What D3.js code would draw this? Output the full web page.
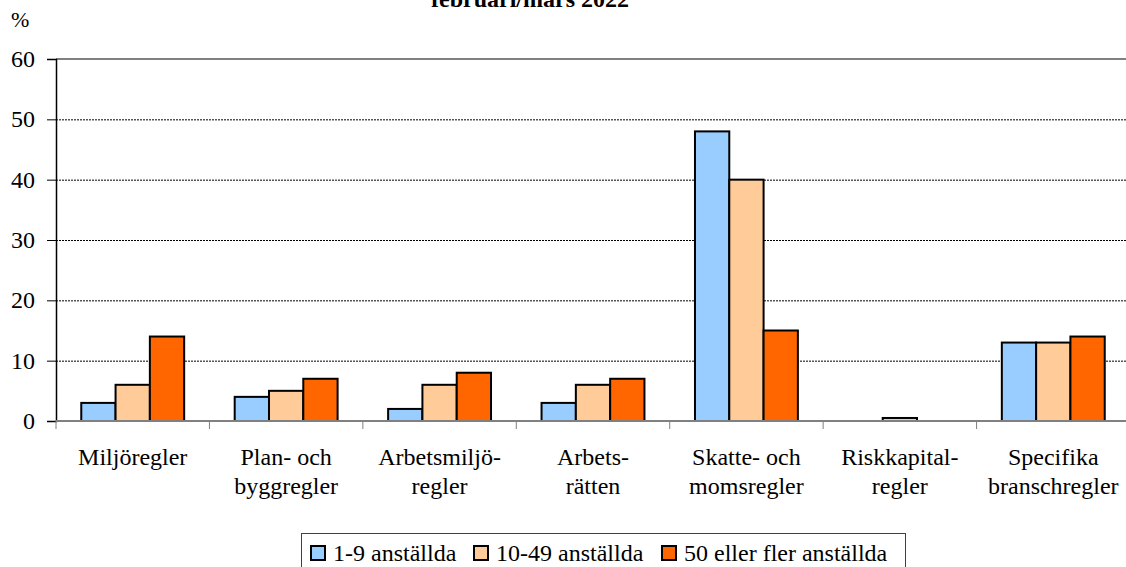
<!DOCTYPE html>
<html>
<head>
<meta charset="utf-8">
<script src="https://cdn.jsdelivr.net/npm/d3@7"></script>
</head>
<body style="margin:0;background:white;font-family:'Times New Roman',serif">
<script>
// data
var categories = [["Miljöregler"], ["Plan- och", "byggregler"], ["Arbetsmiljö-", "regler"],
  ["Arbets-", "rätten"], ["Skatte- och", "momsregler"], ["Riskkapital-", "regler"],
  ["Specifika", "branschregler"]];
var seriesNames = ["1-9 anställda", "10-49 anställda", "50 eller fler anställda"];
var small = [3, 4, 2, 3, 48, 0, 13];
var medium = [6, 5, 6, 6, 40, 0.5, 13];
var large = [14, 7, 8, 7, 15, 0, 14];
var yTicks = [0, 10, 20, 30, 40, 50, 60];
var colors = ["#99ccff", "#ffcc99", "#ff6600"];

var width = 1126, height = 567;
var margin = { top: 59, left: 56, bottom: 146, right: -4 };
var fontFam = "Times New Roman";

var svg = d3.select("body").append("svg")
    .attr("width", width)
    .attr("height", height)
    .style("display", "block");

var y = d3.scaleLinear()
    .domain([0, 60])
    .range([height - margin.bottom, margin.top]);

var x = d3.scaleBand()
    .domain(d3.range(categories.length))
    .range([margin.left, width - margin.right])
    .paddingInner(0)
    .paddingOuter(0);

var bw = 34.3;
var inner = d3.scaleBand()
    .domain(d3.range(3))
    .range([0, bw * 3]);

// title (cut off at the top like the original)
svg.append("text")
    .attr("x", 530)
    .attr("y", 7)
    .attr("text-anchor", "middle")
    .style("font-family", fontFam)
    .style("font-weight", "bold")
    .style("font-size", "24px")
    .text("februari/mars 2022");

svg.append("text")
    .attr("x", 11)
    .attr("y", 27)
    .style("font-family", fontFam)
    .style("font-size", "22px")
    .text("%");

// grid
svg.append("g")
    .selectAll("line")
    .data(yTicks.filter(d => d > 0 && d < 60))
    .enter()
    .append("line")
    .attr("x1", margin.left)
    .attr("x2", width)
    .attr("y1", d => y(d) + 0.5)
    .attr("y2", d => y(d) + 0.5)
    .attr("stroke", "#000")
    .attr("stroke-width", 1)
    .attr("stroke-dasharray", "2,1");

svg.append("line")
    .attr("x1", margin.left)
    .attr("x2", width)
    .attr("y1", y(60))
    .attr("y2", y(60))
    .attr("stroke", "#808080")
    .attr("stroke-width", 2);

// bars
var series = [small, medium, large];
series.forEach((vals, s) => {
    svg.append("g")
        .selectAll("rect")
        .data(vals)
        .enter()
        .append("rect")
        .attr("x", (d, i) => x(i) + (x.bandwidth() - bw * 3) / 2 + inner(s))
        .attr("y", d => y(d))
        .attr("width", bw)
        .attr("height", d => y(0) - y(d))
        .attr("fill", colors[s])
        .attr("stroke", "#000")
        .attr("stroke-width", 2);
});

// y axis, labels drawn by hand so the axis group font does not leak in
var yAxis = d3.axisLeft(y)
    .tickValues(yTicks)
    .tickSize(9)
    .tickFormat("");
var yAxisGroup = svg.append("g")
    .attr("transform", "translate(" + margin.left + ",0)")
    .call(yAxis);
yAxisGroup.select(".domain").attr("stroke", "#000").attr("stroke-width", 1.5);
yAxisGroup.selectAll(".tick line").attr("stroke", "#000");

svg.append("g")
    .selectAll("text")
    .data(yTicks)
    .enter()
    .append("text")
    .attr("x", margin.left - 21)
    .attr("y", d => y(d))
    .attr("dy", "0.34em")
    .attr("text-anchor", "end")
    .style("font-family", fontFam)
    .style("font-size", "24px")
    .text(d => d);

// x axis
var xAxisGroup = svg.append("g")
    .attr("transform", "translate(0," + y(0) + ")");
xAxisGroup.append("line")
    .attr("x1", margin.left)
    .attr("x2", width)
    .attr("stroke", "#808080")
    .attr("stroke-width", 2);
xAxisGroup.selectAll(".xtick")
    .data(d3.range(categories.length + 1))
    .enter()
    .append("line")
    .attr("x1", i => i < categories.length ? x(i) : x(i - 1) + x.bandwidth())
    .attr("x2", i => i < categories.length ? x(i) : x(i - 1) + x.bandwidth())
    .attr("y1", 0)
    .attr("y2", 8)
    .attr("stroke", "#808080");

var labels = svg.append("g")
    .selectAll("text")
    .data(categories)
    .enter()
    .append("text")
    .attr("text-anchor", "middle")
    .attr("x", (d, i) => x(i) + x.bandwidth() / 2)
    .attr("y", 465)
    .style("font-family", fontFam)
    .style("font-size", "24px");
labels.selectAll("tspan")
    .data(d => d)
    .enter()
    .append("tspan")
    .attr("x", function () { return d3.select(this.parentNode).attr("x"); })
    .attr("dy", (d, i) => i === 0 ? 0 : 29)
    .text(d => d);

// legend
var legend = svg.append("g");
legend.append("rect")
    .attr("x", 301.5)
    .attr("y", 533.5)
    .attr("width", 604)
    .attr("height", 40)
    .attr("fill", "none")
    .attr("stroke", "#404040")
    .attr("stroke-width", 1);
var legX = [311, 474, 662];
seriesNames.forEach((name, i) => {
    legend.append("rect")
        .attr("x", legX[i])
        .attr("y", 546)
        .attr("width", 14)
        .attr("height", 14)
        .attr("fill", colors[i])
        .attr("stroke", "#000")
        .attr("stroke-width", 2);
    legend.append("text")
        .attr("x", legX[i] + 22)
        .attr("y", 561)
        .style("font-family", fontFam)
        .style("font-size", "24px")
        .text(name);
});
</script>
</body>
</html>
